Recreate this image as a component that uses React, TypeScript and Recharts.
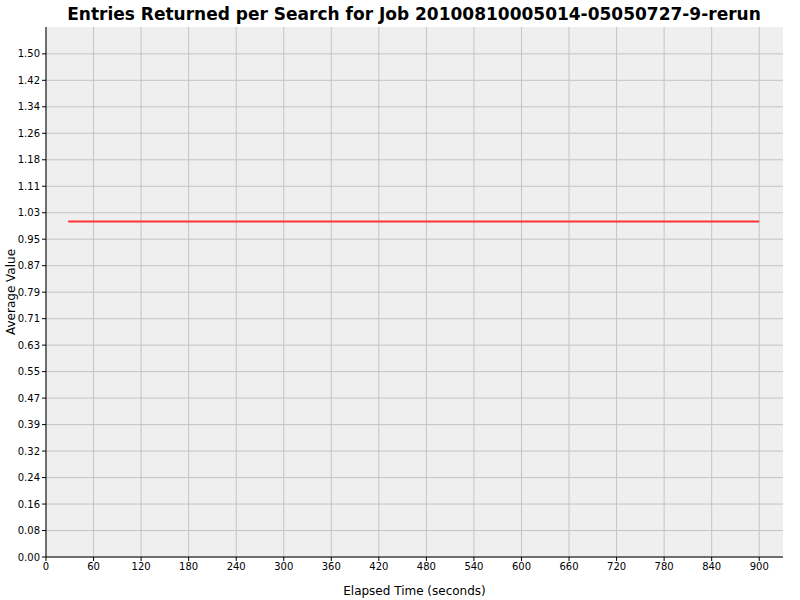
import React from 'react';
import { LineChart, Line, XAxis, YAxis, CartesianGrid, Label } from 'recharts';

const title = 'Entries Returned per Search for Job 20100810005014-05050727-9-rerun';

// elapsed seconds and average entries returned
const elapsed = [28, 900];
const avgValue = [1.0, 1.0];

const xTicks = [0, 60, 120, 180, 240, 300, 360, 420, 480, 540, 600, 660, 720, 780, 840, 900];
const yTicks = [
  0, 0.0789, 0.1579, 0.2368, 0.3158, 0.3947, 0.4737, 0.5526, 0.6316, 0.7105, 0.7895,
  0.8684, 0.9474, 1.0263, 1.1053, 1.1842, 1.2632, 1.3421, 1.4211, 1.5,
];
const yTickLabels = [
  '0.00', '0.08', '0.16', '0.24', '0.32', '0.39', '0.47', '0.55', '0.63', '0.71', '0.79',
  '0.87', '0.95', '1.03', '1.11', '1.18', '1.26', '1.34', '1.42', '1.50',
];

const data = elapsed.map((t, i) => ({ t, v: avgValue[i] }));

const tickStyle = { fontSize: 10, fill: '#000', fontFamily: 'DejaVu Sans' };

export default function App() {
  return (
    <div
      style={{
        position: 'absolute',
        left: 0,
        top: 0,
        width: 800,
        height: 600,
        background: '#fff',
        fontFamily: 'DejaVu Sans',
      }}
    >
      <div
        style={{
          position: 'absolute',
          left: 0,
          top: 4,
          width: 828,
          textAlign: 'center',
          fontSize: 17,
          fontWeight: 'bold',
          color: '#000',
        }}
      >
        {title}
      </div>
      <LineChart
        width={800}
        height={600}
        data={data}
        margin={{ top: 27, right: 17, bottom: 0, left: 0 }}
      >
        <CartesianGrid
          stroke="#c4c4c4"
          fill="#efefef"
          horizontalValues={yTicks}
          verticalValues={xTicks}
        />
        <XAxis
          dataKey="t"
          type="number"
          domain={[0, 930]}
          ticks={xTicks}
          interval={0}
          allowDataOverflow
          height={43}
          stroke="#000"
          tickSize={4}
          tickMargin={2}
          tick={tickStyle}
          tickLine={{ stroke: '#000' }}
        >
          <Label
            value="Elapsed Time (seconds)"
            position="insideBottom"
            offset={5}
            style={{ fontSize: 12, fill: '#000', fontFamily: 'DejaVu Sans' }}
          />
        </XAxis>
        <YAxis
          type="number"
          domain={[0, 1.58]}
          ticks={yTicks}
          interval={0}
          allowDataOverflow
          width={46}
          stroke="#000"
          tickSize={4}
          tickMargin={2}
          tick={tickStyle}
          tickLine={{ stroke: '#000' }}
          tickFormatter={(v: number) => yTickLabels[yTicks.indexOf(v)] ?? v.toFixed(2)}
        >
          <Label
            value="Average Value"
            angle={-90}
            position="insideLeft"
            offset={11}
            style={{ fontSize: 12, fill: '#000', fontFamily: 'DejaVu Sans', textAnchor: 'middle' }}
          />
        </YAxis>
        <Line
          type="linear"
          dataKey="v"
          stroke="#ff3333"
          strokeWidth={2}
          dot={false}
          isAnimationActive={false}
        />
      </LineChart>
    </div>
  );
}
